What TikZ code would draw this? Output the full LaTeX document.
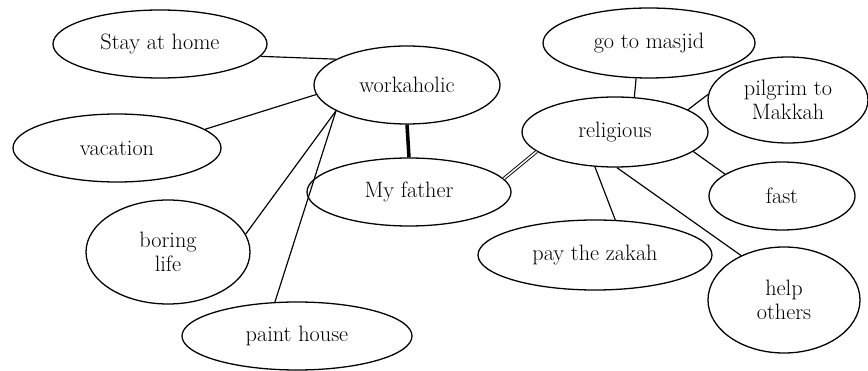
\documentclass[tikz,border=0pt]{standalone}
\usepackage{tikz}
\usetikzlibrary{shapes}
\tikzset{idea/.style={shape=ellipse,draw,line width=1.1pt,inner sep=0pt,align=center,font=\fontsize{19}{20}\selectfont}}
\newcommand{\idea}[6]{ \node[idea,minimum width=#4*0.06cm,minimum height=#5*0.06cm] (#1) at ( #2 , #3 ) {#6};}
\newcommand{\link}[2]{ \draw[line width=1pt] #1 -- #2;}

\begin{document}
\begin{tikzpicture}[x=0.03cm,y=-0.03cm]
        \useasboundingbox (0,0) rectangle (868,371);
        % left side
        \idea{home}{160}{44}{107}{34}{Stay at home}
        \idea{work}{407}{85}{93}{39}{workaholic}
        \idea{vacation}{117}{148}{104}{34}{vacation}
        \idea{father}{409}{192}{102}{34}{My father}
        \idea{boring}{168}{252}{82}{52}{boring\\life}
        \idea{paint}{297}{336}{115}{34}{paint house}
        % right side
        \idea{masjid}{649}{43}{106}{35}{go to masjid}
        \idea{relig}{615}{132}{93}{35}{religious}
        \idea{pilgrim}{788}{100}{80}{43}{pilgrim to\\Makkah}
        \idea{fast}{782}{196}{73}{34}{fast}
        \idea{zakah}{595}{255}{117}{35}{pay the zakah}
        \idea{help}{784}{300}{76}{53}{help\\others}
        % links for workaholic
        \link{(home.353)}{(work.160)}
        \link{(vacation.12)}{(work.186)}
        \link{(boring.13)}{(work.200)}
        \link{(paint.123)}{(work.200)}
        \draw[line width=3pt] (work.270) -- (father.90);
        % links for religious
        \draw[line width=0.8pt,double,double distance=1.3pt] (father.8) -- (relig.194);
        \link{(relig.61)}{(masjid.250)}
        \link{(relig.17)}{(pilgrim.176)}
        \link{(relig.346)}{(fast.159)}
        \link{(relig.240)}{(zakah.60)}
        \link{(relig.273)}{(help.134)}
    \end{tikzpicture}
\end{document}
